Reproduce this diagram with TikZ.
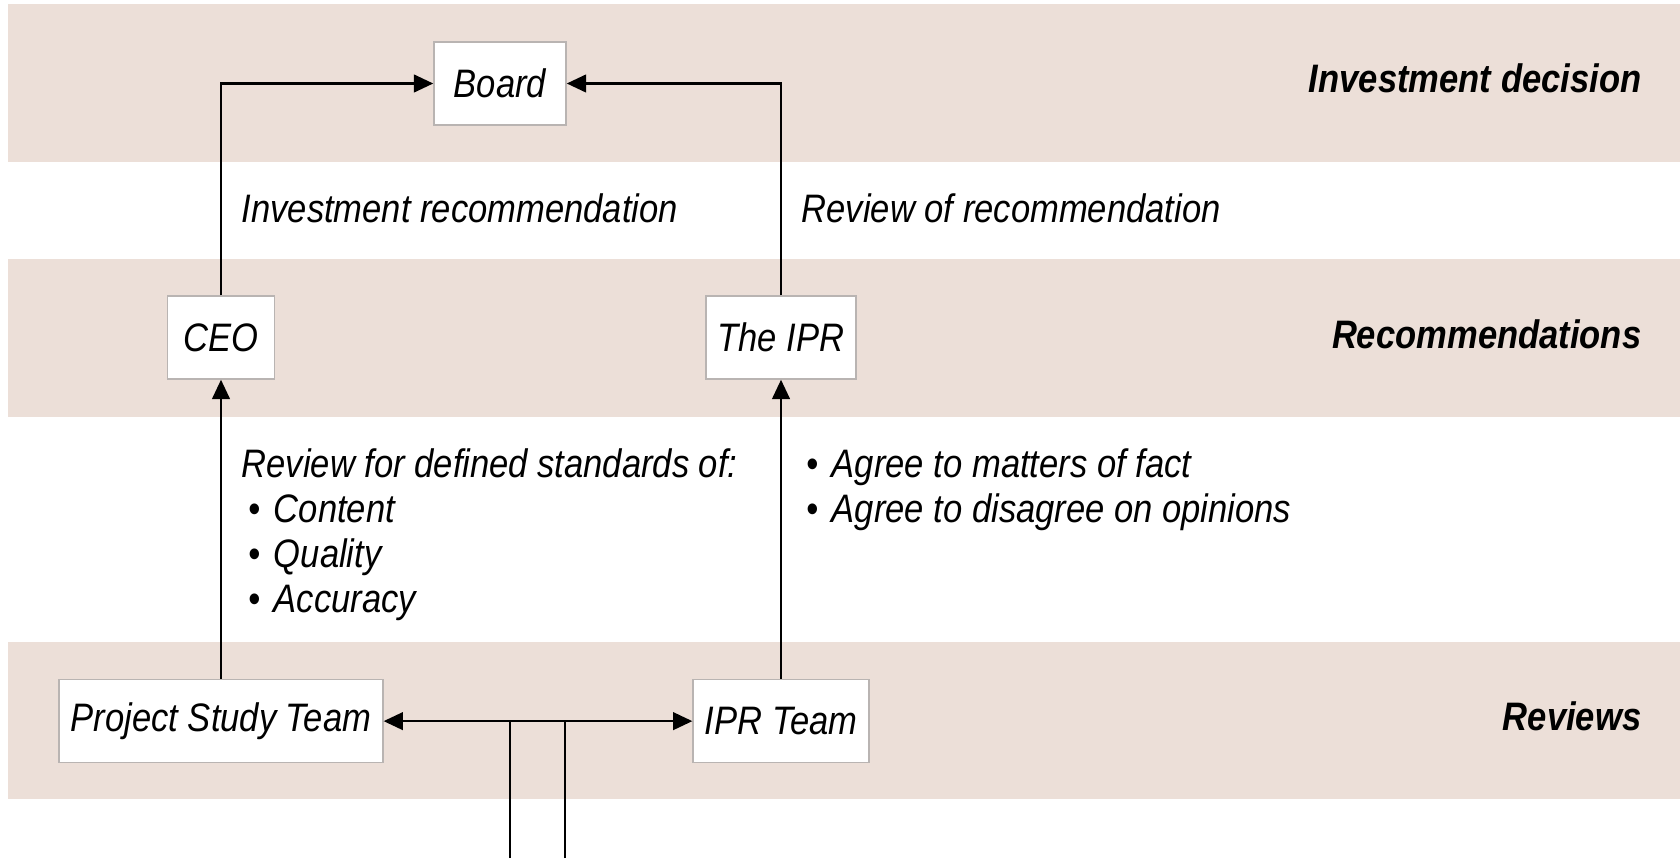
\documentclass[tikz,border=0pt]{standalone}
\usepackage{fontspec}
\usepackage{tikz}
\usetikzlibrary{positioning}
\usetikzlibrary{arrows.meta}

\newfontfamily\chartfont{Liberation Sans}[FakeStretch=0.87]
\definecolor{bandtan}{RGB}{236,223,216}
\definecolor{boxline}{RGB}{185,180,178}

\tikzset{
    >={Triangle[length=5.5pt,width=5pt]},
    band/.style={fill=bandtan, draw=none},
    stage/.style={draw=boxline, line width=0.4pt, fill=white, minimum height=0.83cm,
        font=\chartfont\fontsize{11.3}{13.6}\selectfont\itshape},
    note/.style={anchor=base west, inner sep=0pt,
        font=\chartfont\fontsize{11.3}{13.6}\selectfont\itshape},
    level/.style={anchor=base east, inner sep=0pt,
        font=\chartfont\fontsize{11.3}{13.6}\selectfont\bfseries\itshape},
    flow/.style={line width=0.7pt, ->},
    twoway/.style={line width=0.7pt, <->},
    link/.style={line width=0.7pt}
}

\begin{document}
\begin{tikzpicture}[x=0.01cm, y=-0.01cm]
    \useasboundingbox (0,0) rectangle (1680,858);

    % horizontal bands
    \fill [band] (8,4) rectangle (1680,162);
    \fill [band] (8,259) rectangle (1680,417);
    \fill [band] (8,642) rectangle (1680,799);

    \node [stage, minimum width=1.32cm] (board) at (500,83.5) {Board};
    \node [stage, minimum width=1.07cm] (ceo) at (221,337.5) {CEO};
    \node [stage, minimum width=1.46cm] (theipr) at (781,337.5) {The IPR};
    \node [stage, minimum width=3.23cm] (pst) [below=2.99cm of ceo] {Project Study Team};
    \node [stage, minimum width=1.74cm] (iprteam) [below=2.99cm of theipr] {IPR Team};

    \node [level] (decision) at (1642,93) {Investment decision};
    \node [level] (recs) at (1642,348) {Recommendations};
    \node [level] (reviews) at (1642,730) {Reviews};

    \node [note] (invrec) at (241,223) {Investment recommendation};
    \node [note] (revrec) at (801,223) {Review of recommendation};
    \node [note] (standards) at (241,477) {Review for defined standards of:};
    \node [note] (content) at (248,522) {\textbullet\hspace{1pt} Content};
    \node [note] (quality) at (248,567) {\textbullet\hspace{1pt} Quality};
    \node [note] (accuracy) at (248,612) {\textbullet\hspace{1pt} Accuracy};
    \node [note] (facts) at (806,477) {\textbullet\hspace{1pt} Agree to matters of fact};
    \node [note] (opinions) at (806,522) {\textbullet\hspace{1pt} Agree to disagree on opinions};

    \draw [flow] (ceo.north) |- (board.west);
    \draw [flow] (theipr.north) |- (board.east);
    \draw [flow] (pst.north) -- (ceo.south);
    \draw [flow] (iprteam.north) -- (theipr.south);
    \draw [twoway] (pst.east) -- (iprteam.west);

    % feeds coming in from below
    \coordinate (feedleft) at (510,858);
    \coordinate (feedright) at (565,858);
    \draw [link] (feedleft) -- (feedleft |- pst.east);
    \draw [link] (feedright) -- (feedright |- pst.east);
\end{tikzpicture}
\end{document}
